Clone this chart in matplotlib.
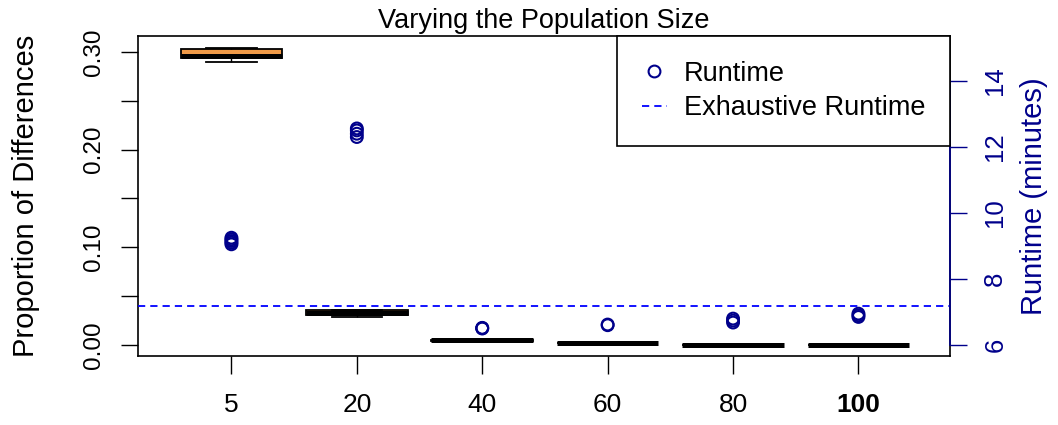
import numpy as np
import matplotlib
matplotlib.use("Agg")
import matplotlib.pyplot as plt
from matplotlib.lines import Line2D

plt.rcParams['font.family'] = ['Liberation Sans', 'DejaVu Sans']

# population sizes (x categories)
pop_sizes = ['5', '20', '40', '60', '80', '100']

# box plot stats for proportion of differences
whis_lo = [0.2900, 0.0283, 0.0040, 0.0015, 0.0, 0.0]
q1 = [0.2937, 0.0300, 0.0040, 0.0015, 0.0, 0.0]
med = [0.2958, 0.0326, 0.0044, 0.0017, 0.0, 0.0]
q3 = [0.3028, 0.0355, 0.0048, 0.0019, 0.0, 0.0]
whis_hi = [0.3038, 0.0357, 0.0048, 0.0019, 0.0, 0.0]

# runtimes in minutes for each population size
runtime_5 = [9.05, 9.10, 9.15, 9.20, 9.25]
runtime_20 = [12.30, 12.40, 12.50, 12.56]
runtime_40 = [6.50, 6.51, 6.52]
runtime_60 = [6.60, 6.62]
runtime_80 = [6.68, 6.74, 6.80]
runtime_100 = [6.85, 6.90, 6.95]
runtimes = [runtime_5, runtime_20, runtime_40, runtime_60, runtime_80, runtime_100]

exhaustive_runtime = 7.17

fig = plt.figure(figsize=(10.58, 4.25), dpi=100)
ax = fig.add_axes([138 / 1058, 1 - 356 / 425, 812 / 1058, 320 / 425])

positions = np.arange(1, len(pop_sizes) + 1)
stats = []
for i in range(len(pop_sizes)):
    stats.append(dict(whislo=whis_lo[i], q1=q1[i], med=med[i], q3=q3[i],
                      whishi=whis_hi[i], fliers=[]))

ax.bxp(stats, positions=positions, widths=0.81, capwidths=0.4,
       patch_artist=True, showfliers=False,
       boxprops=dict(facecolor='#F09A48', edgecolor='black', linewidth=1.3),
       medianprops=dict(color='black', linewidth=3.6, solid_capstyle='butt'),
       whiskerprops=dict(color='black', linewidth=1.0, linestyle='--'),
       capprops=dict(color='black', linewidth=1.3))

ax.set_xlim(0.255, 6.73)
ax.set_ylim(-0.0115, 0.3163)
ax.set_xticks(positions)
ax.set_xticklabels(pop_sizes, fontsize=19)
ax.get_xticklabels()[-1].set_fontweight('bold')

yt = np.arange(0, 0.31, 0.05)
ax.set_yticks(yt)
ax.set_yticklabels(['%.2f' % v if i % 2 == 0 else '' for i, v in enumerate(yt)],
                   rotation=90, va='center', fontsize=17.5)
ax.tick_params(axis='y', length=12, width=1.0, pad=12)
ax.tick_params(axis='x', length=13, width=1.0, pad=14)
for s in ax.spines.values():
    s.set_linewidth(1.2)

ax.set_ylabel('Proportion of Differences', fontsize=21)
ax.yaxis.label.set_va('center')
ax.yaxis.set_label_coords(-0.138, 0.5)
ax.set_title('Varying the Population Size', fontsize=19.5, pad=6)

# runtime on the right axis
ax2 = ax.twinx()
navy = '#00008B'
for i, vals in enumerate(runtimes):
    ax2.scatter([positions[i]] * len(vals), vals, s=72, facecolors='none',
                edgecolors=navy, linewidths=1.5, zorder=3)
ax2.axhline(exhaustive_runtime, color='blue', linestyle=(0, (4, 2.8)), linewidth=1.3)

ax2.set_ylim(5.667, 15.36)
ax2.set_yticks([6, 8, 10, 12, 14])
ax2.set_yticklabels(['6', '8', '10', '12', '14'], rotation=90, va='center',
                    fontsize=18.5, color=navy)
ax2.tick_params(axis='y', length=12, width=1.0, pad=12, colors=navy)
for k in ['top', 'bottom', 'left']:
    ax2.spines[k].set_visible(False)
ax2.spines['right'].set_color(navy)
ax2.spines['right'].set_linewidth(1.2)
ax2.spines['right'].set_bounds(6, 14)
ax2.set_ylabel('Runtime (minutes)', fontsize=21, color=navy, rotation=90)
ax2.yaxis.label.set_va('center')
ax2.yaxis.set_label_coords(1.104, 0.5)

handles = [Line2D([], [], marker='o', linestyle='none', markerfacecolor='none',
                  markeredgecolor=navy, markersize=8.5, markeredgewidth=1.5),
           Line2D([], [], color='blue', linestyle=(0, (4, 2.8)), linewidth=1.3)]
leg = ax2.legend(handles, ['Runtime', 'Exhaustive Runtime'], loc='upper right',
                 bbox_to_anchor=(1, 1), borderaxespad=0, fontsize=19.5,
                 frameon=True, fancybox=False, framealpha=1, edgecolor='black',
                 borderpad=0.92, handlelength=0.95, handleheight=0.7,
                 handletextpad=0.6, labelspacing=0.3)
leg.get_frame().set_linewidth(1.2)
leg.set_zorder(10)

fig.savefig('out.png', dpi=100)
